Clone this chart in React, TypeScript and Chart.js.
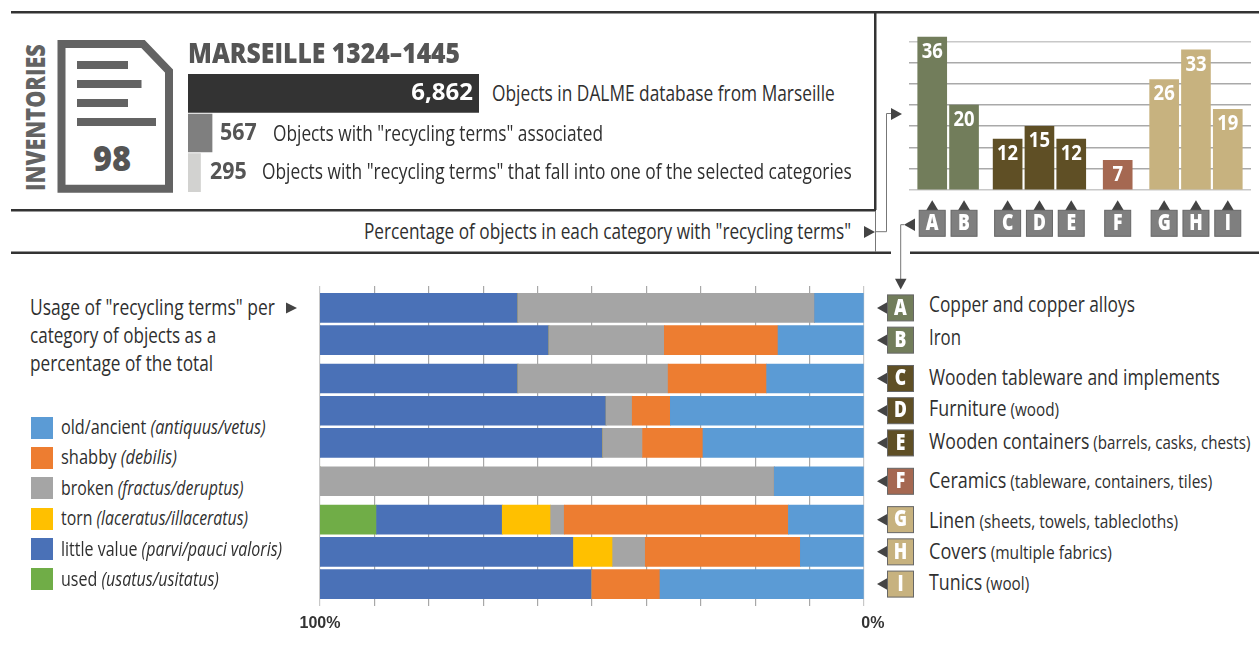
import React, { useEffect, useLayoutEffect, useRef } from "react";
import { Chart, registerables, CategoryScale } from "chart.js";

// ---------- data ----------
const categories = ["A", "B", "C", "D", "E", "F", "G", "H", "I"];
const categoryGroups = ["metal", "metal", "wood", "wood", "wood", "ceramic", "textile", "textile", "textile"];
const categoryNames = ["Copper and copper alloys", "Iron", "Wooden tableware and implements", "Furniture", "Wooden containers", "Ceramics", "Linen", "Covers", "Tunics"];
const categoryNotes = ["", "", "", "(wood)", "(barrels, casks, chests)", "(tableware, containers, tiles)", "(sheets, towels, tablecloths)", "(multiple fabrics)", "(wool)"];
const recyclingPercent = [36, 20, 12, 15, 12, 7, 26, 33, 19];

const oldAncient = [9.1, 15.8, 17.9, 35.6, 29.6, 16.5, 13.9, 11.7, 37.5];
const shabby = [0, 20.9, 18.1, 7, 11.1, 0, 41.2, 28.5, 12.5];
const broken = [54.5, 21.2, 27.6, 4.8, 7.3, 83.5, 2.5, 6, 0];
const torn = [0, 0, 0, 0, 0, 0, 8.9, 7.2, 0];
const littleValue = [36.4, 42.1, 36.4, 52.6, 52, 0, 23.1, 46.6, 50];
const used = [0, 0, 0, 0, 0, 0, 10.4, 0, 0];

const seriesNames = ["old/ancient", "shabby", "broken", "torn", "little value", "used"];
const seriesLatin = ["(antiquus/vetus)", "(debilis)", "(fractus/deruptus)", "(laceratus/illaceratus)", "(parvi/pauci valoris)", "(usatus/usitatus)"];
const seriesValues = [oldAncient, shabby, broken, torn, littleValue, used];

const objectCounts = [6862, 567, 295];
const objectCountLabels = ["6,862", "567", "295"];
const objectRows = ["database", "with terms", "selected"];

// ---------- styling ----------
const seriesColors = ["#5B9BD5", "#ED7D31", "#A5A5A5", "#FFC000", "#4A71B7", "#70AD47"];
const groupColors: Record<string, string> = { metal: "#727D5B", wood: "#5F4F25", ceramic: "#A56851", textile: "#C7B27F" };
const countColors = ["#333333", "#7F7F7F", "#D2D2D0"];
const FONT = '"Open Sans", "Noto Sans", sans-serif';
const INK = "#2F2F2F";
const DARK = "#444444";

const legendLayout = [
  { y: 427, w: 205 }, { y: 457, w: 116 }, { y: 488, w: 183 },
  { y: 518, w: 187 }, { y: 549, w: 221 }, { y: 579, w: 158 },
];
const legendSwatchTops = [417, 447, 477, 508, 538, 568];
const nameLayout = [
  { y: 304, w: 206 }, { y: 337, w: 32 }, { y: 377, w: 291 }, { y: 408, w: 130 }, { y: 441, w: 321 },
  { y: 480, w: 283 }, { y: 520, w: 249 }, { y: 551, w: 183 }, { y: 582, w: 100 },
];
// gap between neighbouring groups, as a fraction of one slot, per axis
const groupGapFractions: Record<string, number[]> = { x: [0.37, 0.46, 0.46], y: [0.19, 0.19, 0.19] };

Chart.register(...registerables);

class GroupedCategoryScale extends (CategoryScale as any) {
  static id = "groupedCategory";
  getPixelForValue(value: any) {
    const self = this as any;
    const i = typeof value === "number" ? value : self.parse(value);
    const { edgePad } = self.options;
    const gaps = groupGapFractions[self.axis];
    const horizontal = self.isHorizontal();
    const start = horizontal ? self.left : self.top;
    const len = horizontal ? self.width : self.height;
    let totalGaps = 0;
    let gapsBefore = 0;
    let g = 0;
    for (let k = 1; k < categoryGroups.length; k++) {
      if (categoryGroups[k] !== categoryGroups[k - 1]) {
        totalGaps += gaps[g];
        if (k <= i) gapsBefore += gaps[g];
        g++;
      }
    }
    const unit = len / (categoryGroups.length - 1 + totalGaps + 2 * edgePad);
    return start + unit * (edgePad + i + gapsBefore);
  }
}
Chart.register(GroupedCategoryScale as any);

function drawText(ctx: CanvasRenderingContext2D, text: string, x: number, y: number, font: string, color: string, sx = 1, align: CanvasTextAlign = "center") {
  ctx.save();
  ctx.font = font;
  ctx.fillStyle = color;
  ctx.textAlign = align;
  ctx.textBaseline = "middle";
  ctx.translate(x, y);
  ctx.scale(sx, 1);
  ctx.fillText(text, 0, 0);
  ctx.restore();
}

function triangle(ctx: CanvasRenderingContext2D, pts: number[][], color: string) {
  ctx.fillStyle = color;
  ctx.beginPath();
  pts.forEach((p, i) => (i ? ctx.lineTo(p[0], p[1]) : ctx.moveTo(p[0], p[1])));
  ctx.closePath();
  ctx.fill();
}

function badge(ctx: CanvasRenderingContext2D, cx: number, cy: number, fill: string, text: string) {
  ctx.fillStyle = fill;
  ctx.strokeStyle = "#666666";
  ctx.lineWidth = 1;
  ctx.fillRect(cx - 13, cy - 13, 26, 26);
  ctx.strokeRect(cx - 13, cy - 13, 26, 26);
  drawText(ctx, text, cx, cy + 0.5, `800 22px ${FONT}`, "#FFFFFF", 0.8);
}

const columnLabels = {
  id: "columnLabels",
  afterDatasetsDraw(chart: any) {
    const { ctx, scales } = chart;
    const bars = chart.getDatasetMeta(0).data;
    bars.forEach((bar: any, i: number) => {
      drawText(ctx, String(recyclingPercent[i]), bar.x, bar.y + 15, `bold 21px ${FONT}`, "#FFFFFF", 0.88);
      const x = scales.x.getPixelForValue(i);
      const by = 223.3 - 20;
      triangle(ctx, [[x - 6, by - 13], [x, by - 23], [x + 6, by - 13]], DARK);
      badge(ctx, x, by, "#7F7F7F", categories[i]);
    });
  },
};

const rowBadges = {
  id: "rowBadges",
  afterDatasetsDraw(chart: any) {
    const { ctx, scales, chartArea } = chart;
    const cx = chartArea.right + 36.5;
    categories.forEach((c, i) => {
      const y = scales.y.getPixelForValue(i);
      triangle(ctx, [[cx - 13, y - 6], [cx - 23.5, y], [cx - 13, y + 6]], DARK);
      badge(ctx, cx, y, groupColors[categoryGroups[i]], c);
    });
  },
};

const countLabels = {
  id: "countLabels",
  afterDatasetsDraw(chart: any) {
    const { ctx } = chart;
    const bars = chart.getDatasetMeta(0).data;
    drawText(ctx, objectCountLabels[0], bars[0].x - 6, bars[0].y, `bold 24px ${FONT}`, "#FFFFFF", 1, "right");
    drawText(ctx, objectCountLabels[1], bars[1].x + 8, bars[1].y, `bold 23px ${FONT}`, "#555555", 0.93, "left");
    drawText(ctx, objectCountLabels[2], bars[2].x + 9.5, bars[2].y, `bold 23px ${FONT}`, "#555555", 0.93, "left");
  },
};

function Fit({ x, y, w, children, size = 21, color = INK, weight = 400 }: any) {
  const ref = useRef<HTMLDivElement>(null);
  useLayoutEffect(() => {
    const el = ref.current!;
    el.style.transform = `translateY(-50%) scaleX(${w / el.offsetWidth})`;
  });
  return (
    <div
      ref={ref}
      style={{
        position: "absolute", left: x, top: y, whiteSpace: "nowrap", lineHeight: 1,
        fontFamily: FONT, fontSize: size, color, fontWeight: weight, transformOrigin: "0 50%",
      }}
    >
      {children}
    </div>
  );
}

function useChart(make: (c: HTMLCanvasElement) => Chart) {
  const ref = useRef<HTMLCanvasElement>(null);
  useEffect(() => {
    const chart = make(ref.current!);
    return () => chart.destroy();
  }, []);
  return ref;
}

const basePlugins = { legend: { display: false }, tooltip: { enabled: false }, title: { display: false } };

export default function App() {
  const countsRef = useChart((c) => new Chart(c, {
    type: "bar",
    data: {
      labels: objectRows,
      datasets: [{ data: objectCounts, backgroundColor: countColors, barThickness: 38, borderWidth: 0 }],
    },
    options: {
      indexAxis: "y", responsive: false, animation: false,
      layout: { padding: { left: 8, right: 11, top: 3.5, bottom: 3.5 } },
      plugins: basePlugins,
      scales: {
        x: { display: false, min: 0, max: 6862 },
        y: { display: false },
      },
    },
    plugins: [countLabels],
  } as any));

  const columnRef = useChart((c) => new Chart(c, {
    type: "bar",
    data: {
      labels: categories,
      datasets: [{
        data: recyclingPercent,
        backgroundColor: categoryGroups.map((g) => groupColors[g]),
        barThickness: 29, borderWidth: 0,
      }],
    },
    options: {
      responsive: false, animation: false,
      layout: { padding: { left: 9, right: 8, top: 12.75, bottom: 60 } },
      plugins: basePlugins,
      scales: {
        x: { type: "groupedCategory", display: false, edgePad: 0.73, grid: { display: false } },
        y: {
          min: 0, max: 37,
          ticks: { display: false, stepSize: 5, includeBounds: false },
          border: { display: false },
          grid: {
            drawTicks: false, lineWidth: 1.5,
            color: (ctx: any) => (ctx.tick && (ctx.tick.value === 0 || ctx.tick.value === 35) ? "#C8C8C8" : "#A9A9A9"),
          },
        },
      },
    },
    plugins: [columnLabels],
  } as any));

  const stackRef = useChart((c) => new Chart(c, {
    type: "bar",
    data: {
      labels: categories,
      datasets: seriesValues.map((values, i) => ({
        label: seriesNames[i], data: values, backgroundColor: seriesColors[i], barThickness: 29, borderWidth: 0,
      })),
    },
    options: {
      indexAxis: "y", responsive: false, animation: false,
      layout: { padding: { left: 40, right: 56, top: 6, bottom: 0 } },
      plugins: basePlugins,
      scales: {
        x: {
          stacked: true, reverse: true, min: 0, max: 100,
          afterFit: (s: any) => { s.height = 34; },
          border: { display: false },
          grid: {
            drawTicks: false, lineWidth: 1.2,
            color: (ctx: any) => (ctx.tick && (ctx.tick.value === 0 || ctx.tick.value === 100) ? "#C8C8C8" : "#A8A8A8"),
          },
          ticks: {
            stepSize: 10, autoSkip: false, maxRotation: 0, padding: 8, color: "#333333",
            font: { family: '"Liberation Sans", sans-serif', size: 16, weight: "bold" },
            callback: (v: any) => (v === 100 ? "100%" : v === 0 ? "    0%" : ""),
          },
        },
        y: { type: "groupedCategory", stacked: true, display: false, edgePad: 0.68, grid: { display: false } },
      },
    },
    plugins: [rowBadges],
  } as any));

  const line = "#333333";
  return (
    <div style={{ position: "absolute", left: 0, top: 0, width: 1259, height: 652, overflow: "hidden", background: "#fff" }}>
      <svg width={1259} height={652} style={{ position: "absolute", left: 0, top: 0 }}>
        <rect x={11} y={11} width={1248} height={2.5} fill={line} />
        <rect x={874} y={12} width={2.5} height={198} fill={line} />
        <rect x={11} y={209} width={865} height={2.5} fill={line} />
        <rect x={11} y={251.5} width={880} height={2.5} fill={line} />
        <rect x={910} y={251.5} width={349} height={2.5} fill={line} />
        <line x1={875.5} y1={211} x2={875.5} y2={252} stroke="#777" />
        <path d="M875 231.7H886.5V113.5H892" fill="none" stroke="#777" />
        <polygon points="864,226 875,232 864,238" fill={DARK} />
        <polygon points="891,108 902,114 891,120" fill={DARK} />
        <path d="M904 224.7H900.7V280" fill="none" stroke="#777" />
        <polygon points="915,218.5 904,224.7 915,231" fill={DARK} />
        <polygon points="895,278.7 906.5,278.7 900.7,289.5" fill={DARK} />
        <polygon points="286,302.5 297,308 286,313.5" fill={DARK} />
        <polygon points="61.5,44 143,44 169,71 169,188.7 61.5,188.7" fill="none" stroke="#636363" strokeWidth={8} />
        <rect x={77} y={61} width={51} height={8} fill="#636363" />
        <rect x={77} y={80} width={64.5} height={8} fill="#636363" />
        <rect x={77} y={99} width={51} height={8} fill="#636363" />
        <rect x={77} y={118} width={79} height={8} fill="#636363" />
      </svg>

      <canvas ref={countsRef} width={310} height={126} style={{ position: "absolute", left: 180, top: 70 }} />
      <canvas ref={columnRef} width={359} height={230} style={{ position: "absolute", left: 900, top: 20 }} />
      <canvas ref={stackRef} width={640} height={360} style={{ position: "absolute", left: 280, top: 280 }} />

      <div style={{ position: "absolute", left: 44, top: 191, transform: "rotate(-90deg)", transformOrigin: "0 0" }}>
        <Fit x={0} y={-9.5} w={147} size={26} weight={800} color="#636363">INVENTORIES</Fit>
      </div>
      <Fit x={93} y={158} w={38} size={36} weight={800} color="#555555">98</Fit>
      <Fit x={188} y={52} w={272} size={28} weight={800} color="#555555">MARSEILLE 1324–1445</Fit>
      <Fit x={492} y={93} w={343}>Objects in DALME database from Marseille</Fit>
      <Fit x={273} y={133} w={330}>Objects with "recycling terms" associated</Fit>
      <Fit x={262} y={171} w={590}>Objects with "recycling terms" that fall into one of the selected categories</Fit>
      <Fit x={364} y={231} w={487}>Percentage of objects in each category with "recycling terms"</Fit>

      <Fit x={30} y={307} w={245}>Usage of "recycling terms" per</Fit>
      <Fit x={30} y={335} w={186}>category of objects as a</Fit>
      <Fit x={30} y={363} w={183}>percentage of the total</Fit>

      {seriesNames.map((name, i) => (
        <React.Fragment key={name}>
          <div style={{ position: "absolute", left: 31, top: legendSwatchTops[i], width: 21.5, height: 21.5, background: seriesColors[i] }} />
          <Fit x={61} y={legendLayout[i].y} w={legendLayout[i].w} size={20}>
            {name} <i>{seriesLatin[i]}</i>
          </Fit>
        </React.Fragment>
      ))}

      {categoryNames.map((name, i) => (
        <Fit key={name} x={929} y={nameLayout[i].y} w={nameLayout[i].w} size={21}>
          {name}
          {categoryNotes[i] ? <span style={{ fontSize: 18 }}> {categoryNotes[i]}</span> : null}
        </Fit>
      ))}
    </div>
  );
}
